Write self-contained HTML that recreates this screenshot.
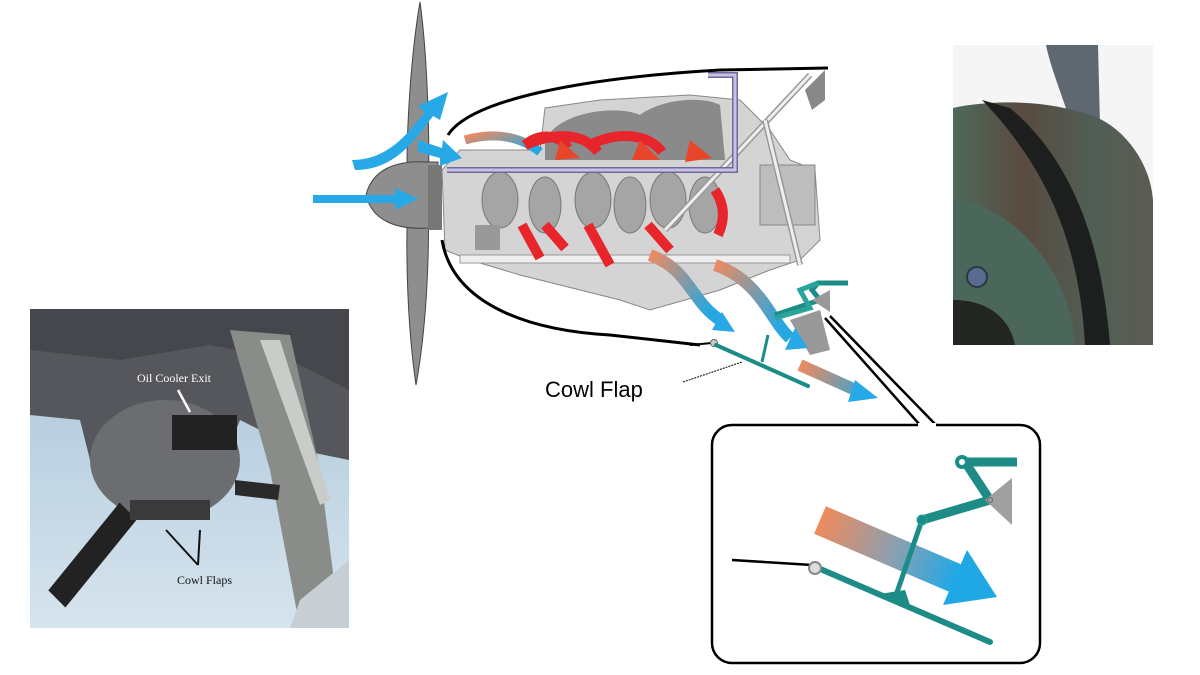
<!DOCTYPE html>
<html><head><meta charset="utf-8"><style>
html,body{margin:0;padding:0;background:#fff;}
svg{display:block;}
</style></head><body>
<svg width="1200" height="675" viewBox="0 0 1200 675" xmlns="http://www.w3.org/2000/svg">
<defs>
<linearGradient id="sky" x1="0" y1="0" x2="0" y2="1"><stop offset="0" stop-color="#a9c4d8"/><stop offset="1" stop-color="#d6e4ee"/></linearGradient>
<linearGradient id="cowl" x1="0" y1="0" x2="1" y2="0"><stop offset="0" stop-color="#4d6a5a"/><stop offset="0.35" stop-color="#5a4a40"/><stop offset="0.7" stop-color="#4f5f55"/><stop offset="1" stop-color="#5b5b52"/></linearGradient>
<linearGradient id="ob" x1="0" y1="0" x2="1" y2="0.6"><stop offset="0" stop-color="#ee8a60"/><stop offset="1" stop-color="#27a7e0"/></linearGradient>
<linearGradient id="ob2" gradientUnits="userSpaceOnUse" x1="820" y1="520" x2="955" y2="578"><stop offset="0" stop-color="#ef8a5c"/><stop offset="0.55" stop-color="#8aa0b0"/><stop offset="1" stop-color="#20a8e6"/></linearGradient>
<linearGradient id="ob3" gradientUnits="userSpaceOnUse" x1="800" y1="365" x2="875" y2="395"><stop offset="0" stop-color="#ef8a5c"/><stop offset="1" stop-color="#20a8e6"/></linearGradient>
</defs>

<!-- Left photo -->
<rect x="30" y="309" width="319" height="319" fill="url(#sky)"/>
<path d="M30 309 H349 V460 L300 450 L240 420 L220 470 L180 500 L120 500 L90 460 L80 420 L30 415 Z" fill="#55575c"/>
<path d="M30 309 H349 V390 L290 360 L210 345 L120 360 L30 350 Z" fill="#45474c"/>
<ellipse cx="165" cy="460" rx="75" ry="60" fill="#6b6d70"/>
<rect x="172" y="415" width="65" height="35" fill="#222"/>
<path d="M230 330 L290 335 L320 470 L340 628 L300 628 L270 470 Z" fill="#8a8c8a"/>
<path d="M260 340 L280 340 L330 500 L320 505 Z" fill="#c9ccc8"/>
<path d="M300 600 L349 560 V628 H290 Z" fill="#c8cfd4"/>
<path d="M55 590 L65 600 L130 520 L120 510 Z" fill="#222" stroke="#222" stroke-width="10" stroke-linecap="round"/>
<path d="M235 480 L280 485 L278 500 L235 495 Z" fill="#2a2a2a"/>
<rect x="130" y="500" width="80" height="20" fill="#3a3a3a"/>
<text x="137" y="382" font-family="Liberation Serif, serif" font-size="12" fill="#fff">Oil Cooler Exit</text>
<path d="M178 390 L190 412" stroke="#fff" stroke-width="2.5"/>
<text x="177" y="584" font-family="Liberation Serif, serif" font-size="12" fill="#111">Cowl Flaps</text>
<path d="M198 565 L166 530 M198 565 L200 530" stroke="#111" stroke-width="2"/>

<!-- Right photo -->
<rect x="953" y="45" width="200" height="300" fill="#f4f5f4"/>
<path d="M1046 45 H1098 L1100 125 L1070 120 C1060 90 1050 65 1046 45 Z" fill="#5f6770"/>
<path d="M953 108 C990 100 1040 100 1080 112 C1120 120 1150 160 1153 200 V345 H953 Z" fill="url(#cowl)"/>
<path d="M982 100 L1010 108 C1060 150 1100 220 1110 345 H1085 C1080 250 1050 170 982 100 Z" fill="#1c1f1d"/>
<path d="M953 200 C1000 200 1070 260 1075 345 H1000 C1010 320 990 300 953 300 Z" fill="#4b665a"/>
<path d="M953 300 C990 300 1010 320 1015 345 H953 Z" fill="#232523"/>
<circle cx="977" cy="277" r="10" fill="#5a6a90" stroke="#2a3a40" stroke-width="2"/>

<!-- Propeller -->
<path d="M420 2 C428 60 430 150 428 190 C430 260 426 330 416 385 C408 330 405 260 408 190 C405 150 410 60 420 2 Z" fill="#8e8e8e" stroke="#444" stroke-width="1"/>
<path d="M366 195 C372 170 395 160 428 162 L438 162 V228 L428 228 C395 230 372 220 366 195 Z" fill="#8e8e8e" stroke="#444" stroke-width="1"/>
<rect x="428" y="165" width="14" height="65" fill="#777"/>

<!-- Engine -->
<path d="M442 170 L460 150 L540 150 L545 108 L600 100 L690 95 L740 100 L770 130 L790 160 L815 170 L820 240 L800 260 L770 270 L720 290 L650 310 L620 300 L520 275 L470 260 L445 250 Z" fill="#d4d4d4" stroke="#888" stroke-width="1"/>
<path d="M545 140 C560 110 620 105 640 115 C660 100 700 95 720 105 L725 160 L545 160 Z" fill="#8a8a8a"/>
<g fill="#a5a5a5" stroke="#777">
<ellipse cx="500" cy="200" rx="18" ry="28"/><ellipse cx="545" cy="205" rx="16" ry="28"/>
<ellipse cx="593" cy="200" rx="18" ry="28"/><ellipse cx="630" cy="205" rx="16" ry="28"/>
<ellipse cx="668" cy="200" rx="18" ry="28"/><ellipse cx="705" cy="205" rx="16" ry="28"/>
</g>
<rect x="460" y="255" width="330" height="8" fill="#eee" stroke="#999"/>
<rect x="475" y="225" width="25" height="25" fill="#999"/>
<rect x="760" y="165" width="55" height="60" fill="#bdbdbd" stroke="#888"/>
<path d="M665 230 L810 75" stroke="#999" stroke-width="6"/>
<path d="M665 230 L810 75" stroke="#eee" stroke-width="3"/>
<path d="M765 120 L800 265" stroke="#999" stroke-width="6"/>
<path d="M765 120 L800 265" stroke="#eee" stroke-width="3"/>
<path d="M805 90 L825 70 V100 L812 110 Z" fill="#888"/>
<path d="M790 320 L820 310 L830 350 L810 355 Z" fill="#999"/>

<!-- purple bar -->
<path d="M447 170 H735 V75 H708" fill="none" stroke="#6e6a9a" stroke-width="6"/>
<path d="M447 170 H735 V75 H708" fill="none" stroke="#c8c2e6" stroke-width="3"/>

<!-- Cowling -->
<path d="M828 68 L720 70 C580 78 470 100 448 135" fill="none" stroke="#000" stroke-width="3"/>
<path d="M442 240 C452 300 520 330 610 335 L700 345" fill="none" stroke="#000" stroke-width="3"/>

<!-- blue arrows -->
<g fill="#26a9e6">
<path d="M313 195 H395 V188 L418 199 L395 210 V203 H313 Z"/>
<path d="M352 160 C390 160 410 130 425 112 L418 106 L448 92 L440 120 L433 116 C415 140 395 170 355 170 Z"/>
<path d="M418 140 L442 148 L443 140 L462 158 L440 166 L440 158 L418 152 Z"/>
</g>
<path d="M465 140 C500 130 525 140 540 152" fill="none" stroke="url(#ob)" stroke-width="9"/>
<!-- red arrows -->
<g stroke="#e8252b" stroke-width="10" fill="none">
<path d="M525 145 C540 132 560 135 568 148"/>
<path d="M525 145 C560 130 585 135 598 152"/>
<path d="M590 145 C620 130 650 135 662 152"/>
<path d="M522 225 L540 258"/><path d="M545 225 L565 248"/><path d="M588 225 L610 265"/><path d="M648 225 L670 250"/>
<path d="M715 190 C725 205 725 220 718 235"/>
</g>
<g fill="#e8452b">
<path d="M560 140 L580 158 L555 160 Z"/><path d="M640 140 L660 160 L632 160 Z"/><path d="M690 140 L712 158 L685 162 Z"/>
</g>
<!-- orange-blue curved arrows -->
<path d="M650 255 C690 270 690 300 720 320" fill="none" stroke="url(#ob)" stroke-width="12"/>
<path d="M712 330 L735 332 L722 312 Z" fill="#26a9e6"/>
<path d="M715 265 C760 280 770 320 790 338" fill="none" stroke="url(#ob)" stroke-width="12"/>
<path d="M785 350 L808 348 L795 328 Z" fill="#26a9e6"/>
<path d="M800 365 L860 392" stroke="url(#ob3)" stroke-width="12"/>
<path d="M855 380 L878 398 L848 402 Z" fill="#26a9e6"/>

<!-- small cowl flap -->
<path d="M690 345 L712 343" stroke="#000" stroke-width="2"/>
<circle cx="714" cy="343" r="3.5" fill="#ccc" stroke="#666"/>
<path d="M716 345 L808 386" stroke="#1e8c86" stroke-width="4" stroke-linecap="round"/>
<path d="M762 362 L768 335" stroke="#1e8c86" stroke-width="3"/>
<path d="M775 315 L820 300 L812 290 L818 283 L848 283" stroke="#1e8c86" stroke-width="5" fill="none"/>
<path d="M818 283 L800 290 L810 308 L775 318" stroke="#2aa59c" stroke-width="5" fill="none"/>
<path d="M812 300 L830 290 V312 Z" fill="#999"/>

<text x="545" y="397" font-family="Liberation Sans, sans-serif" font-size="22" fill="#000">Cowl Flap</text>
<path d="M683 382 L742 362" stroke="#000" stroke-width="1" stroke-dasharray="2,1"/>

<!-- callout lines -->
<path d="M825 318 L920 425 M830 316 L936 425" stroke="#000" stroke-width="2.5"/>

<!-- zoom box -->
<rect x="712" y="425" width="328" height="238" rx="20" fill="#fff" stroke="#000" stroke-width="2.5"/>
<path d="M918 425 H936" stroke="#fff" stroke-width="4"/>
<path d="M732 560 L812 565" stroke="#000" stroke-width="2.5"/>
<path d="M820 520 L955 578" stroke="url(#ob2)" stroke-width="30"/>
<path d="M967 550 L997 597 L943 605 Z" fill="#20a8e6"/>
<path d="M818 568 L990 642" stroke="#1e8c86" stroke-width="6" stroke-linecap="round"/>
<path d="M880 594 L905 590 L910 605 Z" fill="#1e8c86"/>
<path d="M895 598 L922 520" stroke="#1e8c86" stroke-width="5"/>
<path d="M922 520 L990 500 L965 462 L1017 462" stroke="#1e8c86" stroke-width="9" fill="none" stroke-linejoin="round"/>
<path d="M965 462 L1017 462" stroke="#1e8c86" stroke-width="5"/>
<circle cx="962" cy="462" r="5" fill="#fff" stroke="#1e8c86" stroke-width="4"/>
<circle cx="922" cy="520" r="5" fill="#1e8c86" stroke="#2aa59c"/>
<path d="M985 500 L1012 478 V525 Z" fill="#a0a0a0"/>
<circle cx="990" cy="500" r="2.5" fill="none" stroke="#666"/>
<circle cx="815" cy="568" r="6" fill="#ddd" stroke="#888" stroke-width="2"/>
</svg>
</body></html>
